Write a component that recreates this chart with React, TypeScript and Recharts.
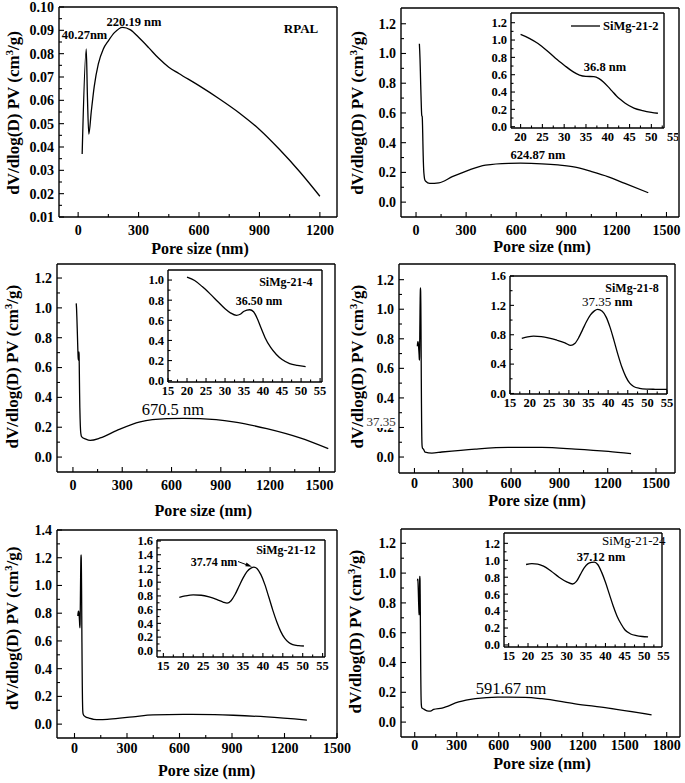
import React from 'react';
import { LineChart, Line, XAxis, YAxis } from 'recharts';

const SERIF = '"Liberation Serif", "Times New Roman", Times, serif';

// ---------------- data ----------------
// RPAL (panel a)
const rpalX = [20, 40.27, 46, 53, 65, 80, 100, 125, 150, 180, 220.19, 260, 300, 350, 400, 450, 500, 600, 700, 800, 900, 1000, 1100, 1200];
const rpalY = [0.037, 0.082, 0.062, 0.0455, 0.055, 0.066, 0.0755, 0.082, 0.0855, 0.089, 0.0913, 0.0902, 0.087, 0.0826, 0.078, 0.0742, 0.0715, 0.0663, 0.0607, 0.0546, 0.0475, 0.0389, 0.0294, 0.0189];

// SiMg-21-2
const s2InsetX = [20, 22, 24, 26, 28, 30, 32, 33.5, 35, 36.8, 38, 39, 40, 41, 42, 43, 44, 46, 48, 50, 51.5];
const s2InsetY = [1.065, 1.02, 0.96, 0.88, 0.79, 0.71, 0.635, 0.595, 0.58, 0.578, 0.555, 0.515, 0.465, 0.41, 0.355, 0.31, 0.27, 0.215, 0.185, 0.165, 0.155];
const s2TailX = [58, 82, 137, 217, 316, 416, 555, 624.87, 754, 850, 953, 1052, 1152, 1251, 1391];
const s2TailY = [0.14, 0.126, 0.13, 0.171, 0.216, 0.249, 0.261, 0.262, 0.258, 0.25, 0.235, 0.205, 0.17, 0.126, 0.063];

// SiMg-21-4
const s4InsetX = [20, 22, 24, 26, 28, 30, 31.5, 33, 34, 35, 36.5, 37.5, 38.5, 39.5, 40.5, 42, 43.5, 45, 47, 49, 51.2];
const s4InsetY = [1.03, 0.995, 0.935, 0.865, 0.79, 0.715, 0.672, 0.65, 0.66, 0.69, 0.705, 0.685, 0.615, 0.52, 0.43, 0.33, 0.26, 0.21, 0.17, 0.152, 0.14];
const s4TailX = [60, 75, 105, 166, 268, 409, 572, 670.5, 774, 977, 1180, 1382, 1554];
const s4TailY = [0.13, 0.122, 0.112, 0.128, 0.179, 0.236, 0.258, 0.26, 0.258, 0.236, 0.19, 0.128, 0.056];

// SiMg-21-8
const s8InsetX = [18, 19.5, 21, 23, 25, 27, 29, 30.5, 31.5, 32.5, 33.5, 34.5, 35.5, 36.5, 37.35, 38.5, 39.5, 40.5, 41.5, 42.5, 43.5, 44.5, 45.5, 46.5, 48, 50, 52, 55];
const s8InsetY = [0.75, 0.77, 0.78, 0.775, 0.755, 0.725, 0.69, 0.655, 0.68, 0.76, 0.87, 0.98, 1.07, 1.125, 1.145, 1.12, 1.04, 0.9, 0.72, 0.53, 0.36, 0.23, 0.14, 0.095, 0.07, 0.06, 0.057, 0.055];
const s8TailX = [66, 108, 170, 377, 583, 790, 997, 1204, 1345];
const s8TailY = [0.034, 0.027, 0.034, 0.054, 0.065, 0.065, 0.054, 0.038, 0.023];

// SiMg-21-12
const s12InsetX = [19, 20.5, 22.5, 24.5, 26.5, 28.5, 30, 31, 32, 33, 34, 35, 36, 37, 37.74, 38.5, 39.5, 40.5, 41.5, 42.5, 43.5, 44.5, 45.5, 46.5, 47.5, 49, 50.3];
const s12InsetY = [0.78, 0.8, 0.815, 0.81, 0.785, 0.745, 0.71, 0.695, 0.73, 0.82, 0.94, 1.06, 1.155, 1.205, 1.22, 1.2, 1.11, 0.965, 0.78, 0.59, 0.42, 0.28, 0.18, 0.12, 0.09, 0.075, 0.07];
const s12TailX = [60, 86, 110, 143, 200, 334, 449, 621, 800, 908, 1099, 1328];
const s12TailY = [0.055, 0.042, 0.034, 0.032, 0.036, 0.053, 0.067, 0.07, 0.068, 0.064, 0.052, 0.029];

// SiMg-21-24
const s24InsetX = [19.5, 21, 22.5, 24, 26, 28, 30, 31.5, 32.5, 33.5, 34.5, 35.5, 36.5, 37.12, 38, 39, 40, 41, 42, 43, 44, 45, 46.5, 48, 49.5, 51];
const s24InsetY = [0.95, 0.96, 0.955, 0.93, 0.87, 0.8, 0.745, 0.72, 0.75, 0.83, 0.91, 0.96, 0.975, 0.978, 0.95, 0.86, 0.74, 0.6, 0.46, 0.34, 0.25, 0.18, 0.13, 0.11, 0.1, 0.095];
const s24TailX = [60, 88, 112, 135, 195, 314, 433, 591.67, 789, 908, 1146, 1383, 1692];
const s24TailY = [0.09, 0.076, 0.074, 0.085, 0.094, 0.135, 0.157, 0.168, 0.166, 0.157, 0.123, 0.094, 0.049];

// tick labels
const xTicks1200 = [0, 300, 600, 900, 1200];
const xTicks1500 = [0, 300, 600, 900, 1200, 1500];
const xTicks1800 = [0, 300, 600, 900, 1200, 1500, 1800];
const yTicksRpal = [0.01, 0.02, 0.03, 0.04, 0.05, 0.06, 0.07, 0.08, 0.09, 0.1];
const yTicks12 = [0, 0.2, 0.4, 0.6, 0.8, 1.0, 1.2];
const yTicks14 = [0, 0.2, 0.4, 0.6, 0.8, 1.0, 1.2, 1.4];
const insetXTicks = [15, 20, 25, 30, 35, 40, 45, 50, 55];
const insetXTicks20 = [20, 25, 30, 35, 40, 45, 50, 55];
const insetYTicks10 = [0, 0.2, 0.4, 0.6, 0.8, 1.0];
const insetYTicks12 = [0, 0.2, 0.4, 0.6, 0.8, 1.0, 1.2];
const insetYTicks16 = [0, 0.4, 0.8, 1.2, 1.6];
const insetYTicks16f = [0, 0.2, 0.4, 0.6, 0.8, 1.0, 1.2, 1.4, 1.6];

// -------------- helpers --------------
type Pt = { x: number; y: number };
const zip = (xs: number[], ys: number[]): Pt[] => xs.map((x, i) => ({ x, y: ys[i] }));
const minorsOf = (m: number[]) => m.slice(0, -1).map((v, i) => (v + m[i + 1]) / 2);

type PlotCfg = {
  frame: [number, number, number, number]; // L, T, R, B (page px)
  pad: [number, number, number, number]; // l, t, r, b
  xDomain: [number, number];
  yDomain: [number, number];
  xMajor: number[];
  yMajor: number[];
  xFmt: (v: number) => string;
  yFmt: (v: number) => string;
  data: Pt[];
  font: number;
  major: number;
  minor: number;
  xGap: number;
  yGap: number;
};

const AX = { stroke: '#000', strokeWidth: 1.4 };

function Plot({ cfg }: { cfg: PlotCfg }) {
  const [L, T, R, B] = cfg.frame;
  const [pl, pt, pr, pb] = cfg.pad;
  const w = R - L + pl + pr;
  const h = B - T + pt + pb;
  const xTicks = [...cfg.xMajor, ...minorsOf(cfg.xMajor)].sort((a, b) => a - b);
  const yTicks = [...cfg.yMajor, ...minorsOf(cfg.yMajor)].sort((a, b) => a - b);
  const isMaj = (arr: number[], v: number) => arr.some((m) => Math.abs(m - v) < 1e-9);
  const inX = (v: number) => v >= cfg.xDomain[0] - 1e-9 && v <= cfg.xDomain[1] + 1e-9;
  const inY = (v: number) => v >= cfg.yDomain[0] - 1e-9 && v <= cfg.yDomain[1] + 1e-9;

  const xTick = (props: any) => {
    const { x, y, payload } = props;
    const v = payload.value;
    const maj = isMaj(cfg.xMajor, v);
    return (
      <g>
        {inX(v) && (
          <line x1={x} x2={x} y1={y} y2={y - (maj ? cfg.major : cfg.minor)} stroke="#000" strokeWidth={1.1} />
        )}
        {maj && (
          <text x={x} y={y + cfg.xGap} textAnchor="middle" fontFamily={SERIF} fontWeight="bold" fontSize={cfg.font} fill="#000">
            {cfg.xFmt(v)}
          </text>
        )}
      </g>
    );
  };
  const yTick = (props: any) => {
    const { x, y, payload } = props;
    const v = payload.value;
    const maj = isMaj(cfg.yMajor, v);
    return (
      <g>
        {inY(v) && (
          <line x1={x} x2={x + (maj ? cfg.major : cfg.minor)} y1={y} y2={y} stroke="#000" strokeWidth={1.1} />
        )}
        {maj && (
          <text x={x - cfg.yGap} y={y} dy="0.35em" textAnchor="end" fontFamily={SERIF} fontWeight="bold" fontSize={cfg.font} fill="#000">
            {cfg.yFmt(v)}
          </text>
        )}
      </g>
    );
  };

  return (
    <div style={{ position: 'absolute', left: L - pl, top: T - pt, width: w, height: h }}>
      <LineChart width={w} height={h} data={cfg.data} margin={{ left: pl - 1, top: pt - 1, right: pr - 1, bottom: pb - 1 }}>
        <XAxis xAxisId="b" type="number" dataKey="x" domain={cfg.xDomain} allowDataOverflow ticks={xTicks} interval={0}
          height={1} tickSize={0} tickMargin={0} tickLine={false} tick={xTick} axisLine={AX} />
        <XAxis xAxisId="t" orientation="top" type="number" dataKey="x" domain={cfg.xDomain} allowDataOverflow
          height={1} tick={false} tickLine={false} axisLine={AX} />
        <YAxis yAxisId="l" type="number" domain={cfg.yDomain} allowDataOverflow ticks={yTicks} interval={0}
          width={1} tickSize={0} tickMargin={0} tickLine={false} tick={yTick} axisLine={AX} />
        <YAxis yAxisId="r" orientation="right" type="number" domain={cfg.yDomain} allowDataOverflow
          width={1} tick={false} tickLine={false} axisLine={AX} />
        <Line xAxisId="b" yAxisId="l" type="monotone" dataKey="y" stroke="#000" strokeWidth={1.3} dot={false} isAnimationActive={false} />
      </LineChart>
    </div>
  );
}

const f0 = (v: number) => String(Math.round(v));
const f1 = (v: number) => v.toFixed(1);
const f2 = (v: number) => v.toFixed(2);
const MAINPAD: [number, number, number, number] = [50, 6, 18, 26];
const INPAD: [number, number, number, number] = [28, 6, 14, 18];

const mainBase = { pad: MAINPAD, font: 14, major: 5, minor: 3, xGap: 18, yGap: 5, xFmt: f0, yFmt: f1 };
const insetBase = { pad: INPAD, font: 12.5, major: 4, minor: 2.5, xGap: 13, yGap: 4, xFmt: f0, yFmt: f1 };

const panels: PlotCfg[] = [
  { ...mainBase, frame: [59, 7, 337, 217], xDomain: [-95, 1285], yDomain: [0.01, 0.1], xMajor: xTicks1200, yMajor: yTicksRpal, yFmt: f2, data: zip(rpalX, rpalY) },
  { ...mainBase, frame: [401, 8, 679, 217], xDomain: [-90, 1575], yDomain: [-0.1, 1.306], xMajor: xTicks1500, yMajor: yTicks12, data: zip(s2InsetX.concat(s2TailX), s2InsetY.concat(s2TailY)) },
  { ...mainBase, frame: [57, 264, 335, 472], xDomain: [-97, 1595], yDomain: [-0.1, 1.294], xMajor: xTicks1500, yMajor: yTicks12, data: zip(s4InsetX.concat(s4TailX), s4InsetY.concat(s4TailY)) },
  { ...mainBase, frame: [399, 264, 675, 473], xGap: 14.5, xDomain: [-96, 1618], yDomain: [-0.108, 1.306], xMajor: xTicks1500, yMajor: yTicks12, data: zip(s8InsetX.concat(s8TailX), s8InsetY.concat(s8TailY)) },
  { ...mainBase, frame: [57, 530, 337, 738], xGap: 15, xDomain: [-100, 1500], yDomain: [-0.1, 1.4], xMajor: xTicks1500, yMajor: yTicks14, data: zip(s12InsetX.concat(s12TailX), s12InsetY.concat(s12TailY)) },
  { ...mainBase, frame: [401, 529, 680, 737], xGap: 13, xDomain: [-98, 1895], yDomain: [-0.1, 1.296], xMajor: xTicks1800, yMajor: yTicks12, data: zip(s24InsetX.concat(s24TailX), s24InsetY.concat(s24TailY)) },
];

const insets: PlotCfg[] = [
  { ...insetBase, frame: [511, 13, 664, 128], xDomain: [17.8, 52.9], yDomain: [-0.015, 1.312], xMajor: insetXTicks20, yMajor: insetYTicks12, data: zip(s2InsetX, s2InsetY) },
  { ...insetBase, frame: [168, 270, 322, 382], xDomain: [15, 55.5], yDomain: [-0.013, 1.1], xMajor: insetXTicks, yMajor: insetYTicks10, data: zip(s4InsetX, s4InsetY) },
  { ...insetBase, frame: [510, 276, 667, 394], xDomain: [15, 55], yDomain: [-0.007, 1.6], xMajor: insetXTicks, yMajor: insetYTicks16, data: zip(s8InsetX, s8InsetY) },
  { ...insetBase, frame: [157, 540, 325, 657], xDomain: [13.4, 55.6], yDomain: [-0.09, 1.615], xMajor: insetXTicks, yMajor: insetYTicks16f, data: zip(s12InsetX, s12InsetY) },
  { ...insetBase, frame: [504, 533, 662, 647], xDomain: [13.8, 54.6], yDomain: [-0.024, 1.322], xMajor: insetXTicks, yMajor: insetYTicks12, data: zip(s24InsetX, s24InsetY) },
];

const yTitles: [number, number][] = [[13, 113], [357, 113], [11.7, 366.7], [357, 366.7], [11.7, 628.3], [355.3, 631.7]];
const xTitles: [number, number][] = [[200, 248], [542, 246.7], [203.3, 510], [537, 500.5], [206.7, 770], [542, 763]];

function Overlay() {
  const B = { fontFamily: SERIF, fontWeight: 'bold' as const, fill: '#000' };
  const Rg = { fontFamily: SERIF, fill: '#000' };
  return (
    <svg width={685} height={783} style={{ position: 'absolute', left: 0, top: 0, pointerEvents: 'none' }}>
      {yTitles.map(([x, y], i) => (
        <text key={'yt' + i} transform={`translate(${x},${y}) rotate(-90)`} textAnchor="middle" dy="0.35em" fontSize={17} {...B}>
          dV/dlog(D) PV (cm<tspan dy={-6} fontSize={10.5}>3</tspan><tspan dy={6}>/g)</tspan>
        </text>
      ))}
      {xTitles.map(([x, y], i) => (
        <text key={'xt' + i} x={x} y={y} dy="0.35em" textAnchor="middle" fontSize={16} {...B}>Pore size (nm)</text>
      ))}
      {/* panel 1 */}
      <text x={134} y={21.7} dy="0.35em" textAnchor="middle" fontSize={12.5} {...B}>220.19 nm</text>
      <text x={84.5} y={35} dy="0.35em" textAnchor="middle" fontSize={12.5} {...B}>40.27nm</text>
      <text x={301} y={28} dy="0.35em" textAnchor="middle" fontSize={13} {...B}>RPAL</text>
      {/* panel 2 */}
      <text x={538} y={155} dy="0.35em" textAnchor="middle" fontSize={12.5} {...B}>624.87 nm</text>
      <line x1={571} x2={600} y1={26} y2={26} stroke="#000" strokeWidth={1.3} />
      <text x={603} y={26} dy="0.35em" textAnchor="start" fontSize={12.5} {...B}>SiMg-21-2</text>
      <text x={605} y={66.7} dy="0.35em" textAnchor="middle" fontSize={12.5} {...B}>36.8 nm</text>
      {/* panel 3 */}
      <text x={172.8} y={409} dy="0.35em" textAnchor="middle" fontSize={16.5} {...Rg}>670.5 nm</text>
      <text x={285.8} y={281.7} dy="0.35em" textAnchor="middle" fontSize={12} {...B}>SiMg-21-4</text>
      <text x={259} y={300.7} dy="0.35em" textAnchor="middle" fontSize={12} {...B}>36.50 nm</text>
      {/* panel 4 */}
      <text x={632} y={287.3} dy="0.35em" textAnchor="middle" fontSize={12} {...B}>SiMg-21-8</text>
      <text x={607.3} y={301.7} dy="0.35em" textAnchor="middle" fontSize={13} {...Rg}>37.35<tspan fontWeight="bold"> nm</tspan></text>
      <rect x={365} y={413} width={32} height={15} fill="#fff" />
      <text x={381} y={421.5} dy="0.35em" textAnchor="middle" fontSize={13} fontFamily={SERIF} fill="#333">37.35</text>
      {/* panel 5 */}
      <text x={285.8} y={550} dy="0.35em" textAnchor="middle" fontSize={12} {...B}>SiMg-21-12</text>
      <text x={214} y={561.7} dy="0.35em" textAnchor="middle" fontSize={12} {...B}>37.74 nm</text>
      <line x1={238} y1={561.5} x2={248} y2={565.3} stroke="#000" strokeWidth={1} />
      <polygon points="252,566.8 246.5,562.6 245.3,566.2" fill="#000" />
      {/* panel 6 */}
      <text x={511} y={688.3} dy="0.35em" textAnchor="middle" fontSize={16.5} {...Rg}>591.67 nm</text>
      <text x={633.7} y={540} dy="0.35em" textAnchor="middle" fontSize={13} {...Rg}>SiMg-21-24</text>
      <text x={601} y={556.7} dy="0.35em" textAnchor="middle" fontSize={12.5} {...B}>37.12 nm</text>
    </svg>
  );
}

export default function App() {
  return (
    <div style={{ position: 'absolute', left: 0, top: 0, width: 685, height: 783, background: '#fff', overflow: 'hidden' }}>
      {panels.map((c, i) => (
        <Plot key={'p' + i} cfg={c} />
      ))}
      {insets.map((c, i) => (
        <Plot key={'i' + i} cfg={c} />
      ))}
      <Overlay />
    </div>
  );
}
